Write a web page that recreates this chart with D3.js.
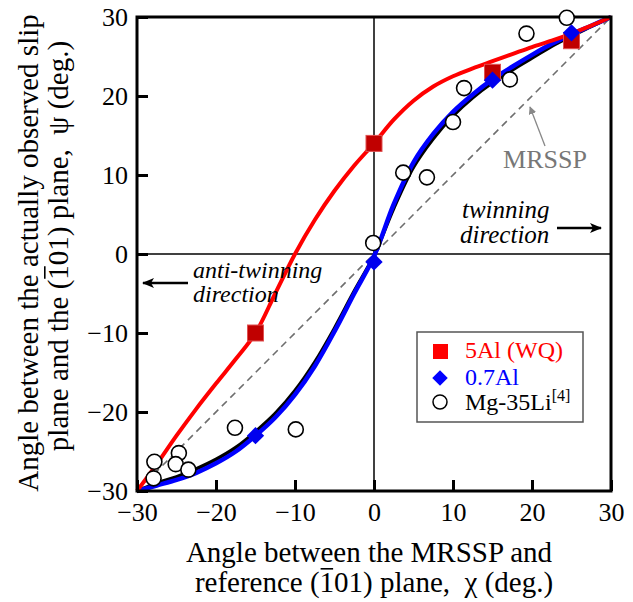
<!DOCTYPE html>
<html><head><meta charset="utf-8">
<script src="https://cdn.jsdelivr.net/npm/d3@7"></script>
<style>body{margin:0;background:#fff}svg{display:block}</style>
</head><body>
<svg id="c" width="633" height="602"></svg>
<script>
// ---- data ----
const xTicks = [-30, -20, -10, 0, 10, 20, 30];
const yTicks = [-30, -20, -10, 0, 10, 20, 30];
const al5X = [-15, 0, 15, 25];
const al5Y = [-10, 14, 23, 27];
const al07X = [-15, 0, 15, 25];
const al07Y = [-23, -1, 22, 28];
const liX = [-27.8, -27.9, -24.7, -25.1, -23.5, -17.6, -9.9, -0.1, 3.7, 6.7, 10.0, 11.4, 17.2, 19.3, 24.4];
const liY = [-26.3, -28.4, -25.2, -26.6, -27.3, -22.0, -22.2, 1.4, 10.3, 9.7, 16.7, 21.0, 22.1, 27.9, 29.9];
// fitted curves
const curveX = [-30, -27.5, -25, -22.5, -20, -17.5, -15, -12.5, -10, -7.5, -5, -2.5, 0, 2.5, 5, 7.5, 10, 12.5, 15, 17.5, 20, 22.5, 25, 27.5, 30];
const redY   = [-30, -26.6, -23.0, -19.6, -16.4, -13.3, -10, -5.0, 0, 4.3, 8.0, 11.2, 14, 17.0, 19.4, 21.2, 22.5, 23.5, 24.4, 25.3, 26.2, 27.0, 27.9, 28.9, 30];
const blueY  = [-30, -29.3, -28.6, -27.7, -26.5, -25.0, -23.0, -20.7, -17.8, -14.2, -9.8, -5.0, -0.3, 6.3, 11.6, 15.2, 18.0, 20.2, 22.1, 23.7, 25.2, 26.6, 27.8, 28.9, 30];
const blackY = [-30, -29.0, -28.2, -27.2, -26.0, -24.5, -22.5, -20.2, -17.3, -13.7, -9.4, -4.7, -0.2, 5.8, 11.0, 14.6, 17.5, 19.8, 21.7, 23.3, 24.8, 26.3, 27.6, 28.8, 30];
const diagX = [-30, 30];
const diagY = [-30, 30];

// pick an installed serif face
function pickFont() {
  const cands = ["Liberation Serif", "Times New Roman", "Tinos", "DejaVu Serif", "Noto Serif", "FreeSerif", "Nimbus Roman", "Times"];
  const ctx = document.createElement("canvas").getContext("2d");
  const s = "Angle between the MRSSP and 0123456789 wWmMiIl";
  const widthOf = f => { ctx.font = "40px " + f; return ctx.measureText(s).width; };
  const base1 = widthOf("monospace"), base2 = widthOf("sans-serif");
  for (const c of cands) {
    const w1 = widthOf(`"${c}", monospace`), w2 = widthOf(`"${c}", sans-serif`);
    if (Math.abs(w1 - base1) > 0.5 && Math.abs(w2 - base2) > 0.5) return `"${c}"`;
  }
  return "serif";
}
const FONT = pickFont() + ", serif";

const svg = d3.select("#c").style("font-family", FONT);
const x = d3.scaleLinear().domain([-30, 30]).range([137, 611]);
const y = d3.scaleLinear().domain([-30, 30]).range([491, 17]);

// zero lines
svg.append("line").attr("x1", x(0)).attr("x2", x(0)).attr("y1", y(-30)).attr("y2", y(30)).attr("stroke", "#000").attr("stroke-width", 1.5);
svg.append("line").attr("x1", x(-30)).attr("x2", x(30)).attr("y1", y(0)).attr("y2", y(0)).attr("stroke", "#000").attr("stroke-width", 1.5);

// diagonal MRSSP
const line = d3.line().x(d => x(d[0])).y(d => y(d[1]));
svg.append("path").attr("d", line(d3.zip(diagX, diagY))).attr("fill", "none").attr("stroke", "#6e6e6e").attr("stroke-width", 1.6).attr("stroke-dasharray", "7,5");

// curves
const sm = d3.line().x(d => x(d[0])).y(d => y(d[1])).curve(d3.curveCatmullRom.alpha(0.5));
svg.append("path").attr("d", sm(d3.zip(curveX, blackY))).attr("fill", "none").attr("stroke", "#000").attr("stroke-width", 3.5);
svg.append("path").attr("d", sm(d3.zip(curveX, blueY))).attr("fill", "none").attr("stroke", "#0000ff").attr("stroke-width", 4.5);
svg.append("path").attr("d", sm(d3.zip(curveX, redY))).attr("fill", "none").attr("stroke", "#ff0000").attr("stroke-width", 4);

// axes (inward ticks)
const ax = d3.axisBottom(x).tickValues(xTicks).tickSize(-11).tickPadding(18).tickFormat(d3.format("d"));
const gx = svg.append("g").attr("transform", `translate(0,${y(-30)})`).call(ax).attr("font-family", null);
gx.select(".domain").remove();
gx.selectAll("line").attr("stroke", "#000").attr("stroke-width", 3);
gx.selectAll("text").style("font-family", FONT).attr("font-size", 26).attr("fill", "#000").attr("dy", "0.71em").attr("y", 12);
const ay = d3.axisLeft(y).tickValues(yTicks).tickSize(-11).tickPadding(10).tickFormat(d3.format("d"));
const gy = svg.append("g").attr("transform", `translate(${x(-30)},0)`).call(ay).attr("font-family", null);
gy.select(".domain").remove();
gy.selectAll("line").attr("stroke", "#000").attr("stroke-width", 3);
gy.selectAll("text").style("font-family", FONT).attr("font-size", 26).attr("fill", "#000").attr("x", -9);

// frame
svg.append("rect").attr("x", x(-30)).attr("y", y(30)).attr("width", x(30) - x(-30)).attr("height", y(-30) - y(30)).attr("fill", "none").attr("stroke", "#000").attr("stroke-width", 3);

// markers
const sq = 16;
svg.append("g").selectAll("rect").data(d3.zip(al5X, al5Y)).join("rect")
  .attr("x", d => x(d[0]) - sq / 2).attr("y", d => y(d[1]) - sq / 2).attr("width", sq).attr("height", sq)
  .attr("fill", "#c00000").attr("stroke", "#e05050").attr("stroke-width", 1);
const dia = d3.symbol().type(d3.symbolSquare).size(150);
svg.append("g").selectAll("path").data(d3.zip(al07X, al07Y)).join("path")
  .attr("d", dia).attr("transform", d => `translate(${x(d[0])},${y(d[1])}) rotate(45)`).attr("fill", "#0000ee");
svg.append("g").selectAll("circle").data(d3.zip(liX, liY)).join("circle")
  .attr("cx", d => x(d[0])).attr("cy", d => y(d[1])).attr("r", 7.5)
  .attr("fill", "#fff").attr("stroke", "#000").attr("stroke-width", 1.6);

// annotations
svg.append("text").attr("x", 545).attr("y", 168).attr("font-size", 26).style("font-family", FONT).attr("fill", "#777").attr("text-anchor", "middle").text("MRSSP");
svg.append("defs").html('<marker id="ag" viewBox="0 0 10 10" refX="9" refY="5" markerWidth="6" markerHeight="6" orient="auto"><path d="M0,0 L10,5 L0,10 z" fill="#888"/></marker><marker id="ab" viewBox="0 0 12 10" refX="11" refY="5" markerWidth="14" markerHeight="10" markerUnits="userSpaceOnUse" orient="auto"><path d="M0,0 L12,5 L0,10 L3,5 z" fill="#000"/></marker>');
svg.append("line").attr("x1", 545).attr("y1", 146).attr("x2", 530).attr("y2", 107).attr("stroke", "#888").attr("stroke-width", 1.3).attr("marker-end", "url(#ag)");

const it = svg.append("g").attr("font-style", "italic").style("font-family", FONT).attr("fill", "#000");
const tw = it.append("text").attr("font-size", 25).attr("x", 462).attr("y", 218);
tw.append("tspan").attr("x", 462).text("twinning");
tw.append("tspan").attr("x", 460).attr("dy", 25).text("direction");
svg.append("line").attr("x1", 557).attr("y1", 228).attr("x2", 601).attr("y2", 228).attr("stroke", "#000").attr("stroke-width", 2.5).attr("marker-end", "url(#ab)");
const atw = it.append("text").attr("font-size", 24).attr("x", 193).attr("y", 278);
atw.append("tspan").attr("x", 193).text("anti-twinning");
atw.append("tspan").attr("x", 193).attr("dy", 24).text("direction");
svg.append("line").attr("x1", 188).attr("y1", 283).attr("x2", 143).attr("y2", 283).attr("stroke", "#000").attr("stroke-width", 2.5).attr("marker-end", "url(#ab)");

// legend
const lg = svg.append("g").style("font-family", FONT);
lg.append("rect").attr("x", 417).attr("y", 332).attr("width", 166).attr("height", 90).attr("fill", "#fff").attr("stroke", "#555").attr("stroke-width", 1.5);
lg.append("rect").attr("x", 433).attr("y", 344).attr("width", 15).attr("height", 15).attr("fill", "#ff0000");
lg.append("path").attr("d", d3.symbol().type(d3.symbolSquare).size(120)).attr("transform", "translate(440,378) rotate(45)").attr("fill", "#0000ff");
lg.append("circle").attr("cx", 440).attr("cy", 402).attr("r", 7).attr("fill", "#fff").attr("stroke", "#000").attr("stroke-width", 1.5);
lg.append("text").attr("x", 465).attr("y", 358).attr("font-size", 24).attr("fill", "#ff0000").text("5Al (WQ)");
lg.append("text").attr("x", 465).attr("y", 385).attr("font-size", 24).attr("fill", "#0000ff").text("0.7Al");
const t3 = lg.append("text").attr("x", 465).attr("y", 410).attr("font-size", 24).attr("fill", "#000").text("Mg-35Li");
t3.append("tspan").attr("font-size", 16).attr("dy", -9).text("[4]");

// axis titles with an overbar on the "1" of (1̄01)
function titleLine(g, str, barIdx, fs) {
  const t = g.append("text").attr("x", 0).attr("y", 0).attr("font-size", fs).style("font-family", FONT)
    .attr("fill", "#000").attr("text-anchor", "middle").text(str);
  if (barIdx >= 0) {
    const e = t.node().getExtentOfChar(barIdx);
    g.append("line").attr("x1", e.x + 1).attr("x2", e.x + e.width - 1)
      .attr("y1", -0.8 * fs).attr("y2", -0.8 * fs).attr("stroke", "#000").attr("stroke-width", 1.6);
  }
}
const x1g = svg.append("g").attr("transform", "translate(369,562)");
titleLine(x1g, "Angle between the MRSSP and", -1, 29);
const x2g = svg.append("g").attr("transform", "translate(374,592)");
titleLine(x2g, "reference (101) plane,\u00a0\u00a0\u03c7 (deg.)", 11, 29);
const y1g = svg.append("g").attr("transform", "translate(38,253) rotate(-90)");
titleLine(y1g, "Angle between the actually observed slip", -1, 29);
const y2g = svg.append("g").attr("transform", "translate(68,246) rotate(-90)");
titleLine(y2g, "plane and the (101) plane,\u00a0\u00a0\u03c8 (deg.)", 15, 29);
</script>
</body></html>
